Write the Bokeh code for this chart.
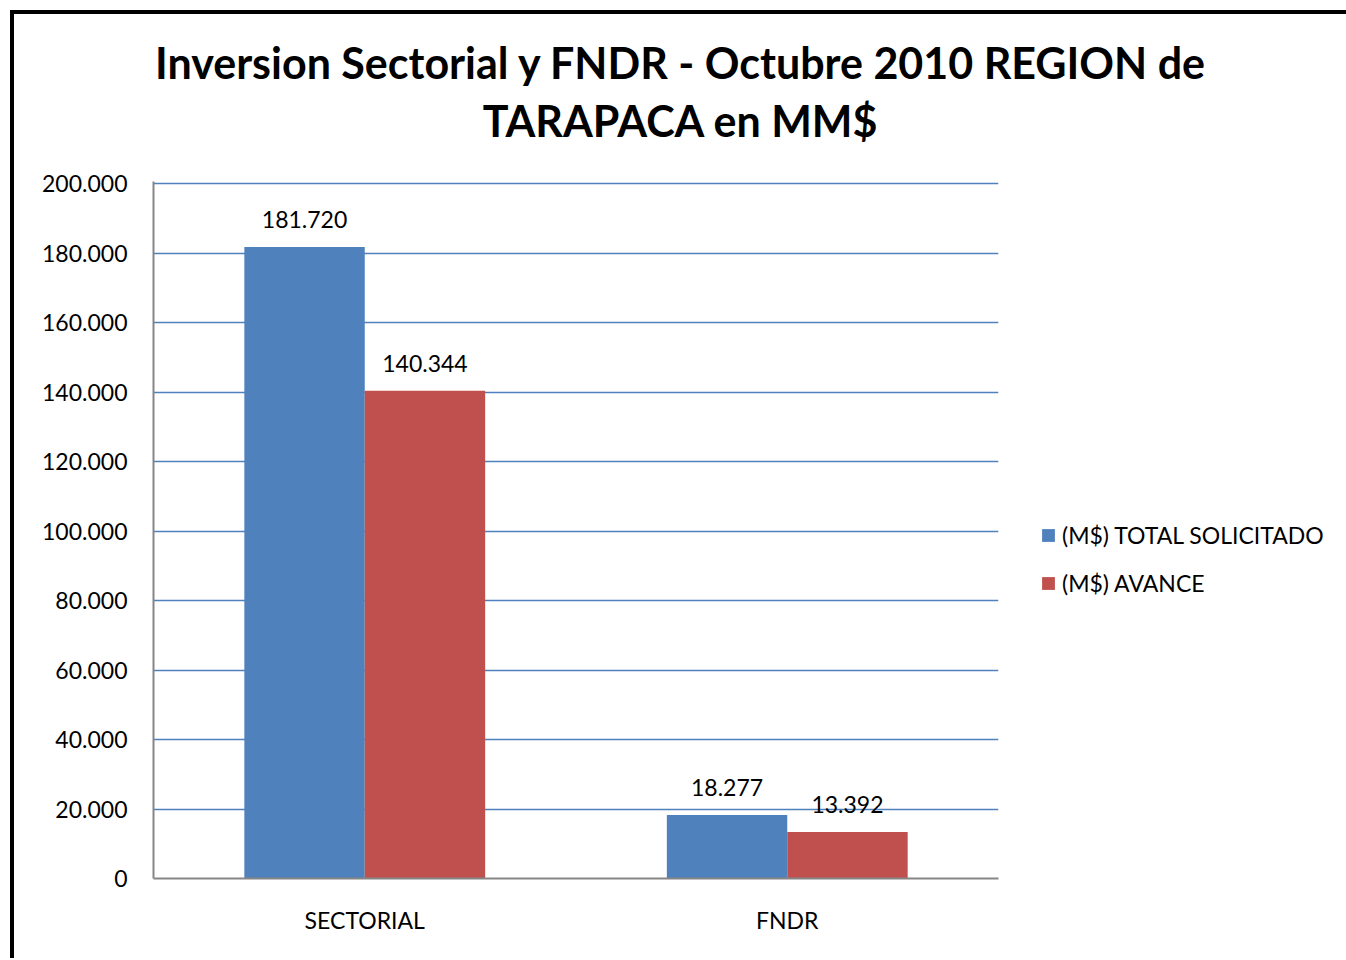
from bokeh.plotting import figure
from bokeh.models import (ColumnDataSource, LabelSet, Legend, LegendItem,
                          CustomJSTickFormatter, FixedTicker, Range1d, Div)
from bokeh.layouts import column
from bokeh.transform import dodge
from bokeh.core.properties import value
from bokeh.embed import file_html
from bokeh.resources import INLINE

categories = ["SECTORIAL", "FNDR"]
total_solicitado = [181720, 18277]
avance = [140344, 13392]
series_names = ["(M$) TOTAL SOLICITADO", "(M$) AVANCE"]
y_ticks = [0, 20000, 40000, 60000, 80000, 100000, 120000, 140000, 160000, 180000, 200000]
title_lines = ["Inversion Sectorial y FNDR - Octubre 2010 REGION de", "TARAPACA en MM$"]

BLUE = "#4F81BD"
RED = "#C0504D"
FONT = "Lato"


def fmt(v):
    return f"{v:,}".replace(",", ".")


src = ColumnDataSource(dict(
    cat=categories,
    total=total_solicitado,
    avance=avance,
    total_lbl=[fmt(v) for v in total_solicitado],
    avance_lbl=[fmt(v) for v in avance],
))

W = 1332
TITLE_H = 150
ymax = y_ticks[-1] * 1.003
p = figure(x_range=categories, y_range=Range1d(0, ymax),
           frame_width=845, frame_height=697,
           output_backend="svg", toolbar_location=None,
           min_border_left=139, min_border_right=0,
           min_border_top=17, min_border_bottom=80)
p.outline_line_color = None
p.background_fill_color = "white"
p.border_fill_color = "white"

bw = 0.285
r1 = p.vbar(x=dodge("cat", -bw / 2, range=p.x_range), top="total", width=bw,
            source=src, fill_color=BLUE, line_color=None)
r2 = p.vbar(x=dodge("cat", bw / 2, range=p.x_range), top="avance", width=bw,
            source=src, fill_color=RED, line_color=None)

lbl_kw = dict(text_font=value(FONT), text_font_size="23px", text_color="black",
              text_align="center", text_baseline="alphabetic", y_offset=19)
p.add_layout(LabelSet(x=dodge("cat", -bw / 2, range=p.x_range), y="total",
                      text="total_lbl", source=src, **lbl_kw))
p.add_layout(LabelSet(x=dodge("cat", bw / 2, range=p.x_range), y="avance",
                      text="avance_lbl", source=src, **lbl_kw))

# axes
p.yaxis.ticker = FixedTicker(ticks=y_ticks)
p.yaxis.formatter = CustomJSTickFormatter(
    code="return tick.toFixed(0).replace(/\\B(?=(\\d{3})+(?!\\d))/g, '.');")
for ax in (p.xaxis[0], p.yaxis[0]):
    ax.major_tick_in = 0
    ax.major_tick_out = 0
    ax.minor_tick_in = 0
    ax.minor_tick_out = 0
    ax.axis_line_color = "#868686"
    ax.axis_line_width = 2
    ax.major_label_text_font = FONT
    ax.major_label_text_font_size = "23px"
    ax.major_label_text_color = "black"
p.yaxis.major_label_standoff = 26
p.xaxis.major_label_standoff = 27

p.xgrid.grid_line_color = None
p.ygrid.grid_line_color = BLUE
p.ygrid.grid_line_width = 1.5
p.ygrid.ticker = FixedTicker(ticks=y_ticks)

legend = Legend(items=[LegendItem(label=series_names[0], renderers=[r1]),
                       LegendItem(label=series_names[1], renderers=[r2])],
                location=(42, 281), orientation="vertical",
                label_text_font=FONT, label_text_font_size="23px",
                label_text_color="black",
                glyph_width=16, glyph_height=16, label_standoff=6,
                spacing=20, padding=0, margin=0,
                border_line_color=None, background_fill_alpha=0)
p.add_layout(legend, "right")

title_html = (
    '<div style="width:%dpx; padding-left:6px; padding-top:20px; text-align:center; '
    'font-family:Lato; font-weight:bold; font-size:43px; line-height:58px; '
    'color:black; white-space:nowrap;">%s</div>' % (W - 6, "<br>".join(title_lines))
)
title = Div(text=title_html, width=W, height=TITLE_H, margin=0)

layout = column(title, p, spacing=0)
layout.styles = {"border-left": "4px solid black", "border-top": "4px solid black",
                 "margin-left": "10px", "margin-top": "10px"}

open("out.html", "w").write(file_html(layout, INLINE))
